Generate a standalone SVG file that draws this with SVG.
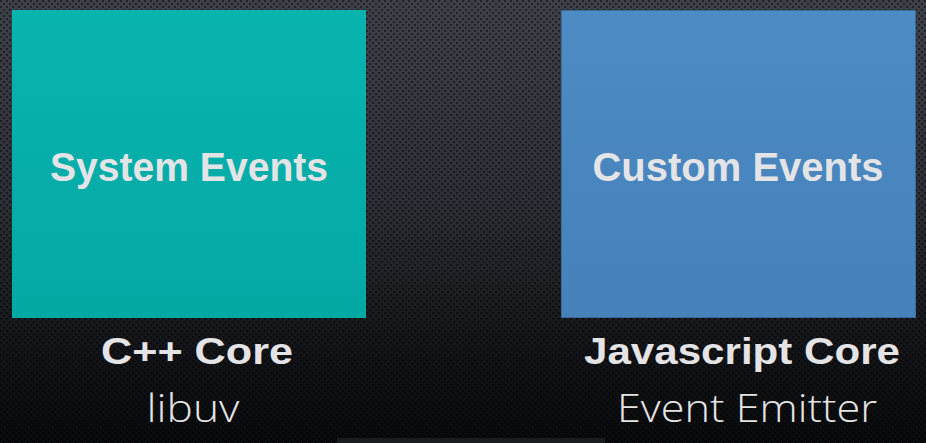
<svg xmlns="http://www.w3.org/2000/svg" width="926" height="443" viewBox="0 0 926 443">
  <defs>
    <linearGradient id="bg" x1="0" y1="0" x2="0" y2="1">
      <stop offset="0" stop-color="#3c4048"/>
      <stop offset="0.45" stop-color="#2b2e34"/>
      <stop offset="0.8" stop-color="#121316"/>
      <stop offset="1" stop-color="#08090a"/>
    </linearGradient>
    <pattern id="weave" width="6" height="6" patternUnits="userSpaceOnUse">
      <rect x="0" y="0" width="2" height="2" fill="#000" opacity="0.45"/>
      <rect x="3" y="3" width="2" height="2" fill="#000" opacity="0.45"/>
      <rect x="1" y="4" width="1" height="1" fill="#fff" opacity="0.04"/>
      <rect x="4" y="1" width="1" height="1" fill="#fff" opacity="0.04"/>
    </pattern>
    <linearGradient id="teal" x1="0" y1="0" x2="0" y2="1">
      <stop offset="0" stop-color="#09b3ae"/>
      <stop offset="1" stop-color="#04a9a4"/>
    </linearGradient>
    <linearGradient id="blue" x1="0" y1="0" x2="0" y2="1">
      <stop offset="0" stop-color="#4c8bc3"/>
      <stop offset="1" stop-color="#4681ba"/>
    </linearGradient>
    <style>
      .title { font-family: "Liberation Sans", Arial, sans-serif; font-weight: bold; fill: #e4e4e6; text-anchor: middle; }
      .sub { font-family: "Open Sans", "Liberation Sans", sans-serif; font-weight: 300; fill: #e4e4e6; text-anchor: middle; }
    </style>
  </defs>

  <!-- backdrop -->
  <rect width="926" height="443" fill="url(#bg)"/>
  <rect width="926" height="443" fill="url(#weave)"/>
  <rect x="337" y="438" width="268" height="5" fill="#1b1c1f"/>

  <g id="system-events">
    <rect x="12" y="10" width="354" height="308" fill="url(#teal)"/>
    <text class="title" x="189" y="181" font-size="40" textLength="278" lengthAdjust="spacingAndGlyphs">System Events</text>
    <text class="title" x="197" y="364" font-size="37" textLength="192" lengthAdjust="spacingAndGlyphs">C++ Core</text>
    <text class="sub" x="193" y="422" font-size="38" textLength="93" lengthAdjust="spacingAndGlyphs">libuv</text>
  </g>

  <g id="custom-events">
    <rect x="561.5" y="10.5" width="354" height="307" fill="url(#blue)" stroke="#3a6a98" stroke-width="1"/>
    <text class="title" x="738" y="181" font-size="40" textLength="291" lengthAdjust="spacingAndGlyphs">Custom Events</text>
    <text class="title" x="742" y="364" font-size="37" textLength="316" lengthAdjust="spacingAndGlyphs">Javascript Core</text>
    <text class="sub" x="747" y="422" font-size="38" textLength="260" lengthAdjust="spacingAndGlyphs">Event Emitter</text>
  </g>

  <g id="connectors"/>
</svg>
